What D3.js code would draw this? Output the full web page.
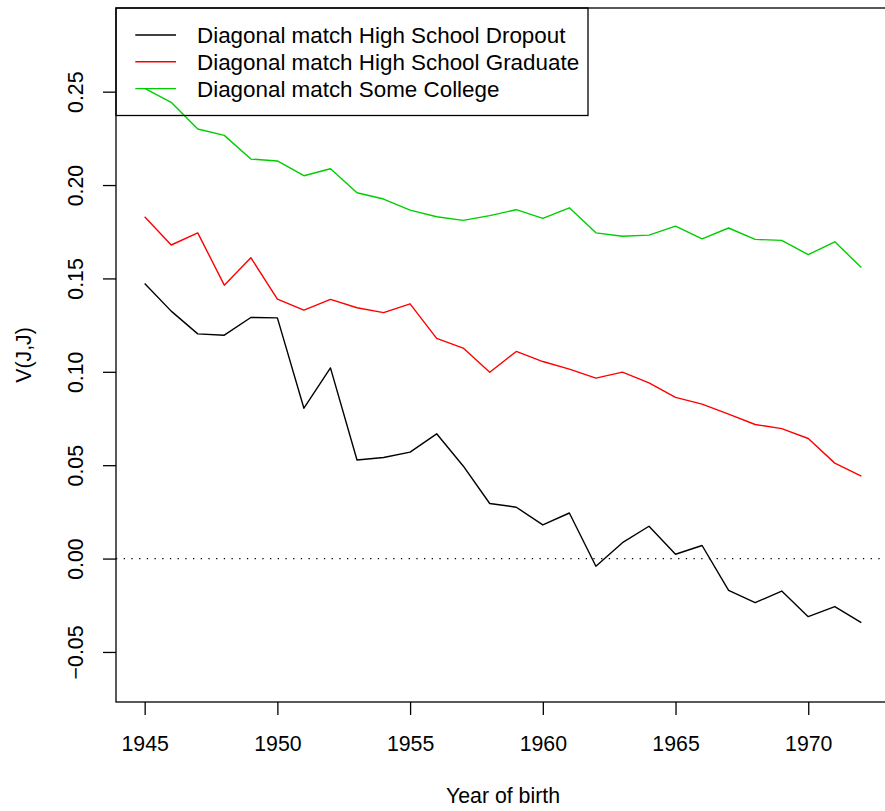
<!DOCTYPE html>
<html>
<head>
<meta charset="utf-8">
<script src="https://cdn.jsdelivr.net/npm/d3@7"></script>
<style>
  body { margin: 0; background: #fff; }
  text { font-family: "Liberation Sans", Arial, sans-serif; }
</style>
</head>
<body>
<script>
// data
var years = d3.range(1945, 1973);
var dropout = [0.1473, 0.1325, 0.1203, 0.1196, 0.1291, 0.1289, 0.0805, 0.1021, 0.0528, 0.0541,
  0.0570, 0.0668, 0.0496, 0.0295, 0.0275, 0.0180, 0.0244, -0.0041, 0.0085, 0.0173,
  0.0023, 0.0070, -0.0170, -0.0236, -0.0174, -0.0311, -0.0257, -0.0343];
var graduate = [0.1830, 0.1679, 0.1744, 0.1464, 0.1611, 0.1389, 0.1330, 0.1388, 0.1343, 0.1317,
  0.1364, 0.1179, 0.1127, 0.0998, 0.1109, 0.1055, 0.1014, 0.0966, 0.0998, 0.0941,
  0.0863, 0.0827, 0.0773, 0.0718, 0.0696, 0.0643, 0.0511, 0.0441];
var college = [0.2518, 0.2443, 0.2300, 0.2266, 0.2139, 0.2129, 0.2050, 0.2087, 0.1959, 0.1925,
  0.1866, 0.1830, 0.1811, 0.1836, 0.1868, 0.1822, 0.1878, 0.1744, 0.1726, 0.1732,
  0.1780, 0.1712, 0.1770, 0.1709, 0.1704, 0.1627, 0.1696, 0.1559];
var seriesNames = ["Diagonal match High School Dropout", "Diagonal match High School Graduate", "Diagonal match Some College"];
var seriesColors = ["#000000", "#FF0000", "#00CD00"];
var xTicks = [1945, 1950, 1955, 1960, 1965, 1970];
var yTicks = [-0.05, 0, 0.05, 0.10, 0.15, 0.20, 0.25];

var width = 885, height = 811;
// plot region (right edge runs past the window like in the reference)
var pLeft = 116, pTop = 8, pRight = 890, pBottom = 702;
var fs = 21.3, legendFs = 22.4;

var svg = d3.select("body").append("svg")
  .attr("width", width)
  .attr("height", height);

// R style: 4% padding on x
var x = d3.scaleLinear().domain([1945 - 27 * 0.04, 1972 + 27 * 0.04]).range([pLeft, pRight]);
var y = d3.scaleLinear().domain([-0.0768, 0.2948]).range([pBottom, pTop]);

svg.append("clipPath").attr("id", "plotclip")
  .append("rect").attr("x", pLeft).attr("y", pTop).attr("width", pRight - pLeft).attr("height", pBottom - pTop);

// zero reference line
svg.append("line")
  .attr("x1", pLeft).attr("x2", pRight)
  .attr("y1", y(0)).attr("y2", y(0))
  .attr("stroke", "#000")
  .attr("stroke-width", 1.3)
  .attr("stroke-dasharray", "1.3,6.4");

var line = d3.line()
  .x(function(d, i) { return x(years[i]); })
  .y(function(d) { return y(d); });

var allSeries = [dropout, graduate, college];
svg.append("g").attr("clip-path", "url(#plotclip)")
  .selectAll("path")
  .data(allSeries)
  .enter()
  .append("path")
  .attr("d", line)
  .attr("fill", "none")
  .attr("stroke", function(d, i) { return seriesColors[i]; })
  .attr("stroke-width", 1.4)
  .attr("stroke-linejoin", "round");

// box
svg.append("rect")
  .attr("x", pLeft).attr("y", pTop)
  .attr("width", pRight - pLeft).attr("height", pBottom - pTop)
  .attr("fill", "none")
  .attr("stroke", "#000")
  .attr("stroke-width", 1.3);

// x axis
var xAxis = d3.axisBottom(x).tickValues(xTicks).tickSize(13).tickPadding(21).tickFormat(d3.format("d"));
var gx = svg.append("g").attr("transform", "translate(0," + pBottom + ")").call(xAxis);
gx.select(".domain").remove();
gx.selectAll(".tick line").attr("stroke-width", 1.3);
gx.selectAll("text").attr("font-size", fs).attr("font-family", "Liberation Sans, Arial, sans-serif").attr("fill", "#000");

// y axis, labels rotated like R's default las=0
var yAxis = d3.axisLeft(y).tickValues(yTicks).tickSize(13).tickFormat(d3.format(".2f"));
var gy = svg.append("g").attr("transform", "translate(" + pLeft + ",0)").call(yAxis);
gy.select(".domain").remove();
gy.selectAll(".tick line").attr("stroke-width", 1.3);
gy.selectAll(".tick text")
  .attr("x", null).attr("dy", null)
  .attr("transform", "translate(-33,0) rotate(-90)")
  .attr("text-anchor", "middle")
  .attr("font-size", fs)
  .attr("font-family", "Liberation Sans, Arial, sans-serif")
  .attr("fill", "#000")
  .text(function(d) { return d3.format(".2f")(d).replace("-", "\u2212"); });

// axis titles
svg.append("text")
  .attr("x", (pLeft + pRight) / 2)
  .attr("y", 803)
  .attr("text-anchor", "middle")
  .attr("font-size", fs)
  .text("Year of birth");

svg.append("text")
  .attr("transform", "translate(31," + ((pTop + pBottom) / 2) + ") rotate(-90)")
  .attr("text-anchor", "middle")
  .attr("font-size", fs)
  .text("V(J,J)");

// legend
var legend = svg.append("g");
legend.append("rect")
  .attr("x", pLeft).attr("y", pTop)
  .attr("width", 472).attr("height", 107.5)
  .attr("fill", "none")
  .attr("stroke", "#000")
  .attr("stroke-width", 1.3);

var rows = [35, 61.8, 88.6];
var item = legend.selectAll(".item")
  .data(seriesNames)
  .enter()
  .append("g")
  .attr("class", "item");
item.append("line")
  .attr("x1", 135.3).attr("x2", 176)
  .attr("y1", function(d, i) { return rows[i]; })
  .attr("y2", function(d, i) { return rows[i]; })
  .attr("stroke", function(d, i) { return seriesColors[i]; })
  .attr("stroke-width", 1.4);
item.append("text")
  .attr("x", 197)
  .attr("y", function(d, i) { return rows[i]; })
  .attr("dy", "0.36em")
  .attr("font-size", legendFs)
  .text(function(d) { return d; });
</script>
</body>
</html>
